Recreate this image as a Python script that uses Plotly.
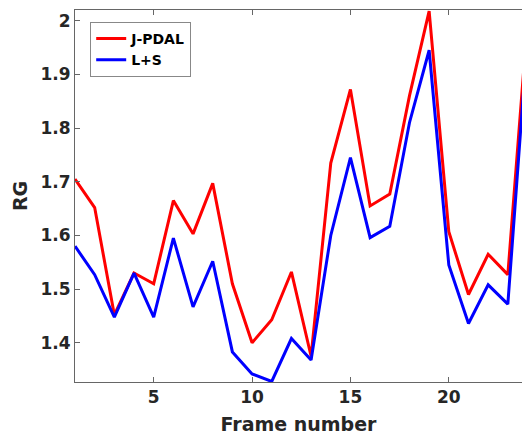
import plotly.graph_objects as go

frames = list(range(1, 25))
jpdal = [1.705, 1.652, 1.452, 1.530, 1.510, 1.665, 1.603, 1.697, 1.510, 1.400,
         1.443, 1.532, 1.375, 1.735, 1.872, 1.655, 1.677, 1.860, 2.018, 1.607,
         1.490, 1.565, 1.527, 2.00]
ls = [1.580, 1.527, 1.448, 1.530, 1.448, 1.595, 1.467, 1.552, 1.383, 1.342,
      1.328, 1.408, 1.368, 1.600, 1.745, 1.596, 1.617, 1.810, 1.945, 1.545,
      1.436, 1.508, 1.472, 1.97]
x_ticks = [5, 10, 15, 20]
y_ticks = [1.4, 1.5, 1.6, 1.7, 1.8, 1.9, 2.0]
y_tick_labels = ["1.4", "1.5", "1.6", "1.7", "1.8", "1.9", "2"]

font_main = dict(family="DejaVu Sans", color="#262626", weight="bold")

fig = go.Figure()
fig.add_trace(go.Scatter(x=frames, y=jpdal, mode="lines", name="J-PDAL",
                         line=dict(color="#ff0000", width=3)))
fig.add_trace(go.Scatter(x=frames, y=ls, mode="lines", name="L+S",
                         line=dict(color="#0000ff", width=3)))

axis_common = dict(showgrid=False, zeroline=False, showline=True,
                   linecolor="#666666", linewidth=1, ticks="inside",
                   ticklen=5, tickcolor="#666666",
                   tickfont=dict(size=17, **font_main))

fig.update_xaxes(range=[1, 23.72], tickvals=x_ticks, mirror="ticks",
                 title=dict(text="Frame number", font=dict(size=19, **font_main),
                            standoff=11),
                 **axis_common)
fig.update_yaxes(range=[1.327, 2.02], tickvals=y_ticks, ticktext=y_tick_labels,
                 mirror=False,
                 title=dict(text="RG", font=dict(size=19, **font_main), standoff=7),
                 **axis_common)

fig.update_layout(
    width=522, height=438,
    margin=dict(l=75, r=0, t=10, b=56),
    plot_bgcolor="white", paper_bgcolor="white",
    showlegend=True,
    legend=dict(x=0.034, y=0.968, xanchor="left", yanchor="top",
                bgcolor="white", bordercolor="#888888", borderwidth=1,
                font=dict(size=14, family="DejaVu Sans", color="#000000", weight="bold"),
                tracegroupgap=0, itemwidth=30),
)

fig.write_html("out.html", config={"displayModeBar": False},
               post_script="document.body.style.margin='0';document.body.style.overflow='hidden';")
